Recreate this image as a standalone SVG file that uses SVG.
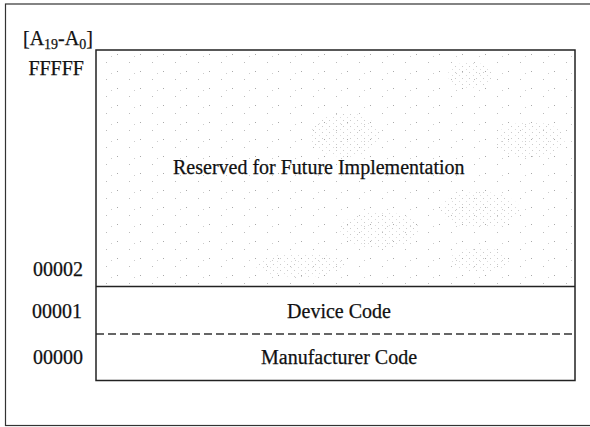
<svg xmlns="http://www.w3.org/2000/svg" width="590" height="427" viewBox="0 0 590 427">
<defs>
<style>
.t{font-family:"Liberation Serif","Times New Roman",serif;font-size:20px;fill:#111;stroke:#111;stroke-width:0.25}
.box{fill:none;stroke:#222;stroke-width:1.5}
.dash{stroke:#333;stroke-width:1.3;stroke-dasharray:8 4}
</style>
<pattern id="st" width="23" height="17" patternUnits="userSpaceOnUse">
<rect x="2" y="3" width="1" height="1" fill="#aaa"/>
<rect x="14" y="11" width="1" height="1" fill="#bbb"/>
<rect x="19" y="5" width="1" height="1" fill="#ccc"/>
</pattern>
<pattern id="st2" width="7" height="6" patternUnits="userSpaceOnUse">
<rect x="0" y="0" width="1" height="1" fill="#aaa"/>
<rect x="4" y="3" width="1" height="1" fill="#c4c4c4"/>
</pattern>
</defs>
<rect width="590" height="427" fill="#fff"/>
<rect x="5.5" y="4" width="590" height="421.5" fill="none" stroke="#333" stroke-width="1.2"/>
<g id="stipple">
<rect x="97" y="51" width="477" height="235" fill="url(#st)"/>
<g fill="url(#st2)" opacity="0.6">
<ellipse cx="345" cy="135" rx="35" ry="22"/>
<ellipse cx="530" cy="140" rx="35" ry="18"/>
<ellipse cx="480" cy="210" rx="40" ry="18"/>
<ellipse cx="380" cy="230" rx="40" ry="18"/>
<ellipse cx="300" cy="265" rx="45" ry="12"/>
<ellipse cx="480" cy="260" rx="30" ry="12"/>
<ellipse cx="470" cy="75" rx="22" ry="13"/>
</g>
</g>
<g id="connectors">
<line x1="96" y1="286.5" x2="575" y2="286.5" stroke="#222" stroke-width="1.5"/>
<line class="dash" x1="96" y1="334" x2="575" y2="334"/>
</g>
<g id="memory-box"><rect class="box" x="96" y="50" width="479" height="330.5"/></g>
<g id="reserved"><text class="t" x="173" y="174">Reserved for Future Implementation</text></g>
<g id="device"><text class="t" x="339" y="318" text-anchor="middle">Device Code</text></g>
<g id="manufacturer"><text class="t" x="339" y="364" text-anchor="middle">Manufacturer Code</text></g>
<g id="addr-header"><text class="t" x="23" y="45">[A<tspan font-size="14" dy="4">19</tspan><tspan dy="-4">-A</tspan><tspan font-size="14" dy="4">0</tspan><tspan dy="-4">]</tspan></text></g>
<g id="addr-fffff"><text class="t" x="84" y="75" text-anchor="end">FFFFF</text></g>
<g id="addr-00002"><text class="t" x="83" y="276" text-anchor="end">00002</text></g>
<g id="addr-00001"><text class="t" x="82" y="318" text-anchor="end">00001</text></g>
<g id="addr-00000"><text class="t" x="83" y="364" text-anchor="end">00000</text></g>
</svg>
